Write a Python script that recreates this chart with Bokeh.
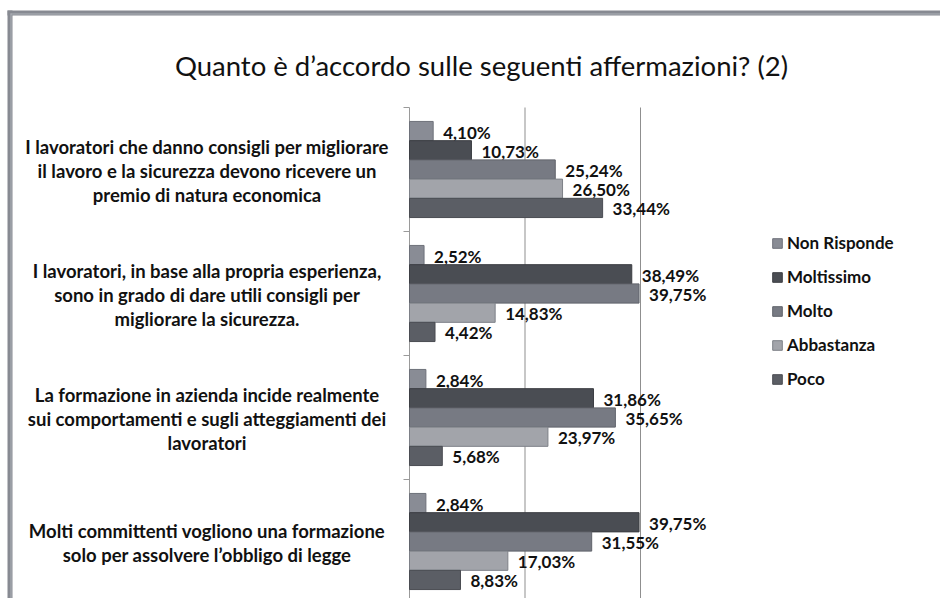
import numpy as np
from bokeh.plotting import figure
from bokeh.models import Range1d, ColumnDataSource
from bokeh.core.properties import value
from bokeh.embed import file_html
from bokeh.resources import INLINE

# ---------------- data ----------------
title_text = "Quanto è d’accordo sulle seguenti affermazioni? (2)"
categories = [
    ["I lavoratori che danno consigli per migliorare",
     "il lavoro e la sicurezza devono ricevere un",
     "premio di natura economica"],
    ["I lavoratori, in base alla propria esperienza,",
     "sono in grado di dare utili consigli per",
     "migliorare la sicurezza."],
    ["La formazione in azienda incide realmente",
     "sui comportamenti e sugli atteggiamenti dei",
     "lavoratori"],
    ["Molti committenti vogliono una formazione",
     "solo per assolvere l’obbligo di legge"],
]
series = ["Non Risponde", "Moltissimo", "Molto", "Abbastanza", "Poco"]
non_risponde = [4.10, 2.52, 2.84, 2.84]
moltissimo = [10.73, 38.49, 31.86, 39.75]
molto = [25.24, 39.75, 35.65, 31.55]
abbastanza = [26.50, 14.83, 23.97, 17.03]
poco = [33.44, 4.42, 5.68, 8.83]
values = [non_risponde, moltissimo, molto, abbastanza, poco]
grid_ticks = [20, 40]

# ---------------- layout / style ----------------
colors = ["#898c95", "#4a4d53", "#777a83", "#a2a4aa", "#5b5e65"]
edges = ["#6e717a", "#3c3e43", "#60636b", "#7d8087", "#4a4c52"]
FONT = "Lato"
W, H = 940, 598
AX_X, AX_TOP = 409, 107          # pixel position of the value axis origin / plot top
PX_PER_UNIT = 5.775              # pixels per percent
PX_PER_BAND = 124.0              # pixels per category band
n_cat = len(categories)
bar_h = 0.155


def xd(px):   # page pixel -> data x
    return (px - AX_X) / PX_PER_UNIT


def yd(py):   # page pixel -> data y
    return n_cat - (py - AX_TOP) / PX_PER_BAND


p = figure(width=W, height=H, output_backend="svg", toolbar_location=None,
           x_range=Range1d(xd(0), xd(W)), y_range=Range1d(yd(H), yd(0)),
           x_axis_location=None, y_axis_location=None, title=None,
           min_border_left=0, min_border_top=0,
           min_border_right=0, min_border_bottom=0)
p.outline_line_color = None
p.grid.grid_line_color = None
p.background_fill_color = "white"
p.border_fill_color = "white"

y_bottom = yd(H)

# vertical gridlines
p.segment(x0=grid_ticks, x1=grid_ticks, y0=[y_bottom] * len(grid_ticks),
          y1=[n_cat] * len(grid_ticks), line_color="#8f8f8f", line_width=1)
# value axis line + band separator ticks
p.segment(x0=[0], x1=[0], y0=[y_bottom], y1=[n_cat], line_color="#9a9a9a", line_width=1)
bounds = list(range(0, n_cat + 1))
p.segment(x0=[xd(AX_X - 6)] * len(bounds), x1=[0] * len(bounds), y0=bounds, y1=bounds,
          line_color="#9a9a9a", line_width=1)

centers = np.array([n_cat - i - 0.5 for i in range(n_cat)])

for j, name in enumerate(series):
    off = (2 - j) * bar_h
    vals = np.array(values[j])
    src = ColumnDataSource(dict(
        y=centers + off, v=vals,
        lab=[f"{v:.2f}".replace(".", ",") + "%" for v in vals]))
    p.hbar(y="y", right="v", left=0, height=bar_h, source=src,
           fill_color=colors[j], line_color=edges[j], line_width=1,
           legend_label=name)
    p.text(x="v", y="y", text="lab", source=src, x_offset=10, y_offset=1,
           text_font=value(FONT), text_font_style="bold",
           text_font_size="17px", text_color="#111111",
           text_align="left", text_baseline="middle")

# category labels (multi-line, centred left of the axis)
cx, cy, ct = [], [], []
for i, lines in enumerate(categories):
    n = len(lines)
    for k, line in enumerate(lines):
        dy_px = (k - (n - 1) / 2) * 24 + 1
        cx.append(xd(206.5))
        cy.append(centers[i] - dy_px / PX_PER_BAND)
        ct.append(line)
p.text(x=cx, y=cy, text=ct, text_font=value(FONT), text_font_style="bold",
       text_font_size="18.5px", text_color="#111111",
       text_align="center", text_baseline="middle")

# title
p.text(x=[xd(481)], y=[yd(65)], text=[title_text], text_font=value(FONT),
       text_font_size="27.5px", text_color="#111111",
       text_align="center", text_baseline="middle")

# outer frame border (left + top)
p.quad(left=[xd(7), xd(7)], right=[xd(12), xd(W)], top=[yd(10), yd(10)],
       bottom=[yd(H), yd(15)], fill_color="#878a92", line_color=None)
p.quad(left=[xd(10), xd(10)], right=[xd(11), xd(W)], top=[yd(13), yd(13)],
       bottom=[yd(H), yd(14)], fill_color="#aeb1b7", line_color=None)

# legend
lg = p.legend[0]
lg.location = (771, H - 389)
lg.glyph_width = 12
lg.glyph_height = 12
lg.label_height = 20
lg.spacing = 13
lg.label_standoff = 4
lg.padding = 0
lg.margin = 0
lg.border_line_color = None
lg.background_fill_alpha = 0
lg.label_text_font = FONT
lg.label_text_font_style = "bold"
lg.label_text_font_size = "17px"
lg.label_text_color = "#111111"

open("out.html", "w").write(file_html(p, INLINE))
